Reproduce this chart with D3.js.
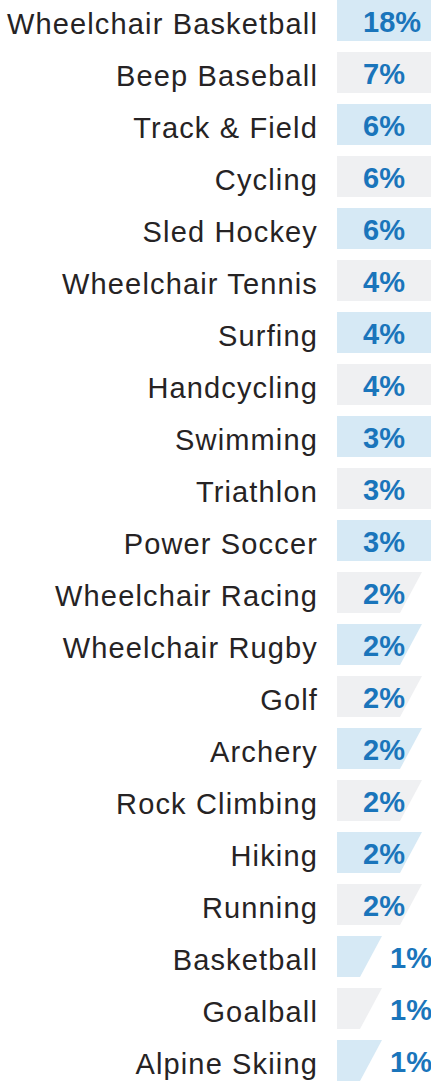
<!DOCTYPE html>
<html>
<head>
<meta charset="utf-8">
<script src="https://cdn.jsdelivr.net/npm/d3@7"></script>
<style>
html,body{margin:0;padding:0;background:#fff;overflow:hidden;}
svg{display:block;}
</style>
</head>
<body>
<div id="chart"></div>
<script>
const categories = ["Wheelchair Basketball","Beep Baseball","Track & Field","Cycling","Sled Hockey","Wheelchair Tennis","Surfing","Handcycling","Swimming","Triathlon","Power Soccer","Wheelchair Racing","Wheelchair Rugby","Golf","Archery","Rock Climbing","Hiking","Running","Basketball","Goalball","Alpine Skiing"];
const values = [18,7,6,6,6,4,4,4,3,3,3,2,2,2,2,2,2,2,1,1,1];
const colors = ["#d6e9f5","#eff0f2"];

const W = 431, H = 1082;
const rowH = 52, barH = 41, slant = 22, barLeft = 337;
const svg = d3.select("#chart").append("svg").attr("width", W).attr("height", H);

const y = d3.scaleBand().domain(categories).range([0, rowH * categories.length]).paddingInner(0).paddingOuter(0);
const x = d3.scaleLinear().domain([0, 1]).range([342, 382]);

const data = categories.map((c, i) => ({c, v: values[i], i}));

const g = svg.selectAll("g.row").data(data).enter().append("g").attr("class", "row")
  .attr("transform", d => `translate(0,${y(d.c)})`);

g.append("path")
  .attr("d", d => {
    const r = x(d.v);
    return `M${barLeft},0L${r},0L${r - slant},${barH}L${barLeft},${barH}Z`;
  })
  .attr("fill", d => colors[d.i % 2]);

g.append("text")
  .attr("x", 318)
  .attr("y", 34)
  .attr("text-anchor", "end")
  .attr("font-family", "Liberation Sans, Arial, sans-serif")
  .attr("font-size", 29)
  .attr("letter-spacing", 1.15)
  .attr("fill", "#262324")
  .text(d => d.c);

g.append("text")
  .attr("x", d => (x(d.v) - slant - barLeft) > 60 ? barLeft + 26 : x(d.v) + 8)
  .attr("y", 32)
  .attr("font-family", "Liberation Sans, Arial, sans-serif")
  .attr("font-weight", "bold")
  .attr("font-size", 29)
  .attr("fill", "#1a75bb")
  .text(d => d.v + "%");
</script>
</body>
</html>
